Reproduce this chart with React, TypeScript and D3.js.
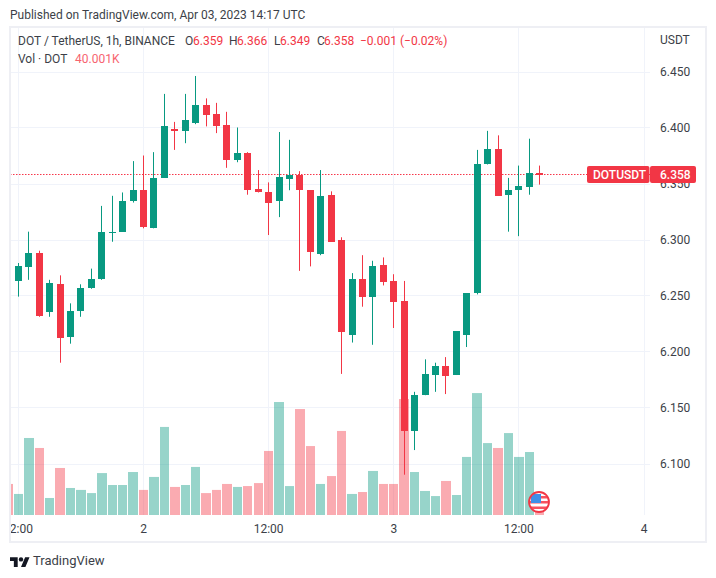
import React from "react";
import * as d3 from "d3";

const width = 716;
const height = 578;
const font = "Roboto, sans-serif";
const upColor = "#089981";
const downColor = "#f23645";
const textColor = "#3c3f48";

// hourly bars, first one is 2023-04-01 11:00 UTC
const firstBar = new Date(Date.UTC(2023, 3, 1, 11));
const opens = [6.297, 6.263, 6.275, 6.288, 6.235, 6.260, 6.213, 6.236, 6.257, 6.265, 6.306, 6.307, 6.334, 6.344, 6.310, 6.355, 6.399, 6.397, 6.404, 6.420, 6.412, 6.402, 6.371, 6.377, 6.345, 6.342, 6.334, 6.354, 6.358, 6.344, 6.287, 6.340, 6.300, 6.215, 6.265, 6.249, 6.277, 6.263, 6.245, 6.129, 6.161, 6.179, 6.187, 6.179, 6.215, 6.252, 6.367, 6.381, 6.340, 6.344, 6.347, 6.359];
const highs = [6.297, 6.279, 6.307, 6.290, 6.264, 6.268, 6.243, 6.260, 6.274, 6.330, 6.339, 6.342, 6.370, 6.375, 6.378, 6.430, 6.405, 6.430, 6.446, 6.426, 6.422, 6.414, 6.400, 6.378, 6.362, 6.351, 6.396, 6.389, 6.361, 6.344, 6.362, 6.343, 6.302, 6.270, 6.286, 6.281, 6.284, 6.269, 6.263, 6.164, 6.193, 6.190, 6.195, 6.218, 6.252, 6.380, 6.397, 6.393, 6.355, 6.366, 6.390, 6.366];
const lows = [6.263, 6.249, 6.264, 6.231, 6.231, 6.190, 6.207, 6.231, 6.256, 6.264, 6.298, 6.307, 6.333, 6.310, 6.310, 6.355, 6.380, 6.386, 6.403, 6.401, 6.395, 6.364, 6.369, 6.340, 6.342, 6.304, 6.320, 6.344, 6.272, 6.276, 6.286, 6.298, 6.180, 6.208, 6.240, 6.206, 6.259, 6.221, 6.090, 6.112, 6.161, 6.164, 6.162, 6.179, 6.204, 6.251, 6.367, 6.339, 6.307, 6.303, 6.340, 6.349];
const closes = [6.263, 6.276, 6.288, 6.232, 6.261, 6.212, 6.236, 6.257, 6.265, 6.307, 6.307, 6.334, 6.344, 6.311, 6.355, 6.401, 6.397, 6.407, 6.420, 6.411, 6.401, 6.371, 6.377, 6.344, 6.342, 6.333, 6.356, 6.358, 6.344, 6.289, 6.339, 6.298, 6.217, 6.265, 6.249, 6.276, 6.262, 6.244, 6.129, 6.161, 6.180, 6.187, 6.178, 6.218, 6.252, 6.367, 6.381, 6.339, 6.344, 6.348, 6.359, 6.358];
// thousands of DOT
const volumes = [177, 120, 439, 382, 97, 268, 154, 143, 125, 239, 171, 171, 245, 143, 217, 502, 160, 171, 274, 125, 143, 177, 160, 165, 182, 365, 644, 165, 604, 393, 177, 222, 479, 120, 131, 251, 177, 177, 661, 245, 137, 108, 194, 114, 331, 695, 410, 382, 467, 331, 359, 40];

const priceTicks = [6.45, 6.4, 6.35, 6.3, 6.25, 6.2, 6.15, 6.1];
const timeTicks = [
  { t: new Date(Date.UTC(2023, 3, 1, 12)), label: "2:00" },
  { t: new Date(Date.UTC(2023, 3, 2, 0)), label: "2" },
  { t: new Date(Date.UTC(2023, 3, 2, 12)), label: "12:00" },
  { t: new Date(Date.UTC(2023, 3, 3, 0)), label: "3" },
  { t: new Date(Date.UTC(2023, 3, 3, 12)), label: "12:00" },
  { t: new Date(Date.UTC(2023, 3, 4, 0)), label: "4" },
];
const lastPrice = 6.358;

const paneLeft = 10;
const paneRight = 650;
const paneTop = 27;
const paneBottom = 515;

const x = d3.scaleUtc()
  .domain([new Date(Date.UTC(2023, 3, 1, 12)), new Date(Date.UTC(2023, 3, 4, 0))])
  .range([18.4, 644]);
const y = d3.scaleLinear().domain([6.1, 6.45]).range([463.5, 71.5]);
const yVol = d3.scaleLinear().domain([0, 800]).range([paneBottom, paneBottom - 800 / 5.7]);

const bars = opens.map((o, i) => ({
  t: d3.utcHour.offset(firstBar, i),
  open: o,
  high: highs[i],
  low: lows[i],
  close: closes[i],
  volume: volumes[i],
}));

const legend = [
  { x: 185, text: "O", c: textColor },
  { x: 193, text: "6.359", c: downColor },
  { x: 229, text: "H", c: textColor },
  { x: 237, text: "6.366", c: downColor },
  { x: 274, text: "L", c: textColor },
  { x: 280, text: "6.349", c: downColor },
  { x: 317, text: "C", c: textColor },
  { x: 324, text: "6.358", c: downColor },
  { x: 360, text: "−0.001 (−0.02%)", c: downColor },
];

export default function App() {
  const lastY = Math.floor(y(lastPrice));
  return (
    <svg
      width={width}
      height={height}
      viewBox={`0 0 ${width} ${height}`}
      style={{ position: "absolute", left: 0, top: 0, background: "#fff" }}
      fontFamily={font}
      fontSize={12}
    >
      <defs>
        <clipPath id="pane">
          <rect x={paneLeft} y={paneTop} width={paneRight - paneLeft} height={paneBottom - paneTop} />
        </clipPath>
        <clipPath id="badge">
          <circle r={9.5} />
        </clipPath>
      </defs>

      <text x={10} y={19} fill={textColor}>Published on TradingView.com, Apr 03, 2023 14:17 UTC</text>

      {/* grid */}
      <g stroke="#f0f3fa" strokeWidth={1}>
        {priceTicks.map((p) => (
          <line key={p} x1={paneLeft} x2={paneRight} y1={Math.round(y(p)) + 0.5} y2={Math.round(y(p)) + 0.5} />
        ))}
        {timeTicks.map((d) => (
          <line key={+d.t} x1={Math.floor(x(d.t)) + 0.5} x2={Math.floor(x(d.t)) + 0.5} y1={paneTop} y2={paneBottom} />
        ))}
      </g>

      <g clipPath="url(#pane)">
        {/* volume */}
        {bars.map((d) => {
          const cx = x(d.t);
          const left = Math.round(cx - 4.7);
          const right = Math.round(cx + 4.7);
          return (
            <rect
              key={+d.t}
              x={left}
              width={right - left}
              y={yVol(d.volume)}
              height={paneBottom - yVol(d.volume)}
              fill={d.close >= d.open ? upColor : downColor}
              fillOpacity={0.42}
            />
          );
        })}

        {/* last price line */}
        <line
          x1={paneLeft}
          x2={paneRight}
          y1={lastY + 0.5}
          y2={lastY + 0.5}
          stroke="#f7364a"
          strokeWidth={1}
          strokeDasharray="1.5 1.5"
        />

        {/* candles */}
        {bars.map((d) => {
          const cx = Math.floor(x(d.t));
          const color = d.close >= d.open ? upColor : downColor;
          const top = Math.round(y(Math.max(d.open, d.close)));
          const bottom = Math.round(y(Math.min(d.open, d.close)));
          return (
            <g key={+d.t} fill={color}>
              <rect x={cx} width={1} y={y(d.high)} height={y(d.low) - y(d.high)} />
              <rect x={cx - 3} width={7} y={top} height={Math.max(1, bottom - top)} />
            </g>
          );
        })}
      </g>

      {/* flag badge */}
      <g transform="translate(539,502)">
        <circle r={10} fill="#fff" />
        <g clipPath="url(#badge)">
          <rect x={-9} y={-6} width={18} height={2.5} fill="#f7525f" />
          <rect x={-9} y={-1} width={18} height={2.5} fill="#f7525f" />
          <rect x={-9} y={4.5} width={18} height={2.5} fill="#f7525f" />
          <rect x={-8} y={-8} width={10} height={9} fill="#3f8fe8" />
        </g>
        <circle r={10} fill="none" stroke="#f23645" strokeWidth={1.8} />
      </g>

      {/* price axis */}
      <g fill={textColor}>
        <text x={660} y={44}>USDT</text>
        {priceTicks.map((p) => (
          <text key={p} x={660} y={y(p) + 4.5}>{d3.format(".3f")(p)}</text>
        ))}
      </g>

      {/* time axis */}
      <g fill={textColor} textAnchor="middle">
        {timeTicks.map((d) => (
          <text
            key={+d.t}
            x={d.label === "2:00" ? 33 : x(d.t)}
            y={533}
            textAnchor={d.label === "2:00" ? "end" : "middle"}
          >
            {d.label}
          </text>
        ))}
      </g>

      {/* last price label */}
      <rect x={587} y={lastY - 8} width={62.5} height={17} rx={2} fill={downColor} />
      <rect x={650} y={lastY - 8} width={46} height={17} rx={2} fill={downColor} />
      <text x={593} y={lastY + 4.5} fill="#fff" fontWeight={500}>DOTUSDT</text>
      <text x={660} y={lastY + 4.5} fill="#fff" fontWeight={500}>{d3.format(".3f")(lastPrice)}</text>

      {/* legend */}
      <text x={18} y={45} fill={textColor}>DOT / TetherUS, 1h, BINANCE</text>
      {legend.map((d) => (
        <text key={d.x} x={d.x} y={45} fill={d.c}>{d.text}</text>
      ))}
      <text x={18} y={63} fill={textColor}>Vol · DOT</text>
      <text x={75} y={63} fill="#f7646f">40.001K</text>

      {/* frame */}
      <rect x={10} y={27} width={696} height={515} fill="none" stroke="#eeeff4" strokeWidth={2} />

      {/* logo */}
      <g transform="translate(10,555) scale(0.55)" fill="#131722">
        <path d="M14 22H7V11H0V4h14v18zM28 22h-8l7.5-18h8L28 22z" />
        <circle cx={20} cy={8} r={4} />
      </g>
      <text x={33} y={565} fontSize={13} fill={textColor}>TradingView</text>
    </svg>
  );
}
